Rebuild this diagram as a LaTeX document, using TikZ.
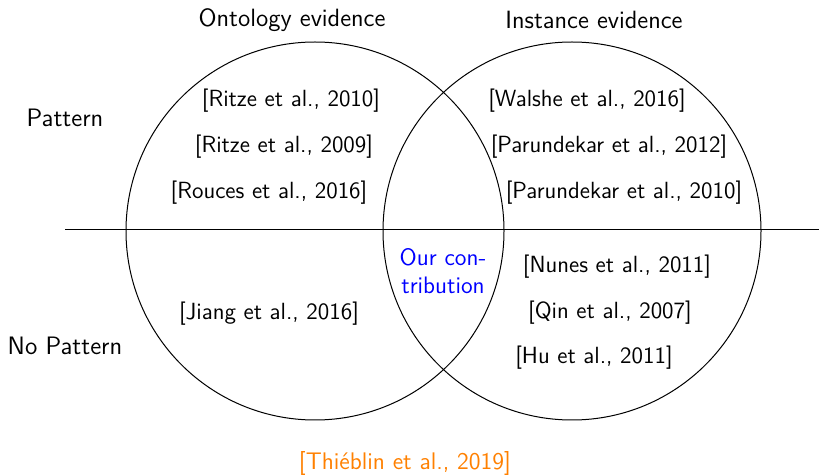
\documentclass[tikz,border=0pt]{standalone}
\usepackage{xcolor}
\definecolor{contrib}{RGB}{0,0,255}
\definecolor{survey}{RGB}{255,128,0}
\begin{document}
\sffamily
\begin{tikzpicture}[x=0.5pt,y=-0.5pt,
  lbl/.style={inner sep=0pt,font=\fontsize{12.6}{15}\selectfont},
  head/.style={inner sep=0pt,font=\fontsize{12.5}{15}\selectfont},
  ref/.style={inner sep=0pt,font=\fontsize{11.7}{14}\selectfont},
  set/.style={draw=black,line width=0.5pt}]
  \useasboundingbox (0,0) rectangle (819,475);
  % the two evidence sets
  \draw[set] (315,231) circle[radius=189];
  \draw[set] (572,231) circle[radius=189];
  % pattern / no pattern divider
  \coordinate (divL) at (65,230);
  \coordinate (divR) at (819,230);
  \draw[set] (divL) -- (divR);
  % headings
  \node[head] (onto) at (292,20) {Ontology evidence};
  \node[head] (inst) at (594,20) {Instance evidence};
  \node[lbl] (pat) at (65,118) {Pattern};
  \node[lbl] (nopat) at (65,346) {No Pattern};
  % ontology, pattern
  \node[ref] (r1) at (291,101) {[Ritze et al., 2010]};
  \node[ref] (r2) at (284,147) {[Ritze et al., 2009]};
  \node[ref] (r3) at (269,193) {[Rouces et al., 2016]};
  % instance, pattern
  \node[ref] (r4) at (587,101) {[Walshe et al., 2016]};
  \node[ref] (r5) at (609,147) {[Parundekar et al., 2012]};
  \node[ref] (r6) at (624,193) {[Parundekar et al., 2010]};
  % ontology, no pattern
  \node[ref] (r7) at (269,314) {[Jiang et al., 2016]};
  % intersection
  \node[inner sep=0pt,font=\fontsize{11.9}{14}\selectfont,text=contrib,align=center]
    (ours) at (443,271) {Our con-\\tribution};
  % instance, no pattern
  \node[ref] (r8) at (617,267) {[Nunes et al., 2011]};
  \node[ref] (r9) at (610,313) {[Qin et al., 2007]};
  \node[ref] (r10) at (594,358) {[Hu et al., 2011]};
  % survey reference
  \node[ref,font=\fontsize{12}{14}\selectfont,text=survey] (thi) at (405,463) {[Thiéblin et al., 2019]};
\end{tikzpicture}
\end{document}
